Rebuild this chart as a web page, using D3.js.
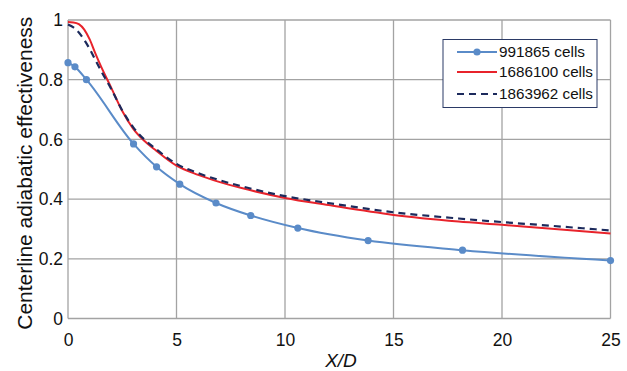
<!DOCTYPE html>
<html>
<head>
<meta charset="utf-8">
<script src="https://cdn.jsdelivr.net/npm/d3@7"></script>
<style>
  html, body { margin: 0; padding: 0; background: #fff; }
  svg { display: block; font-family: "Liberation Sans", Arial, sans-serif; }
</style>
</head>
<body>
<svg id="chart" width="627" height="371"></svg>
<script>
// Mesh sensitivity: centerline adiabatic effectiveness vs X/D
const coarseX = [0, 0.32, 0.85, 3.02, 4.08, 5.15, 6.82, 8.42, 10.59, 13.83, 18.18, 25];
const coarseY = [0.857, 0.843, 0.800, 0.585, 0.508, 0.450, 0.387, 0.345, 0.303, 0.261, 0.229, 0.194];

const fineX = [0, 0.25, 0.5, 0.75, 1, 1.25, 1.5, 2, 2.5, 3, 3.5, 4, 5, 6, 7, 8, 10, 12, 15, 18, 20, 22, 25];
const mediumY = [0.993, 0.992, 0.986, 0.968, 0.935, 0.89, 0.848, 0.772, 0.695, 0.636, 0.596, 0.566, 0.512, 0.481, 0.457, 0.437, 0.404, 0.380, 0.347, 0.325, 0.314, 0.302, 0.285];
const finestY = [0.985, 0.975, 0.958, 0.933, 0.903, 0.868, 0.833, 0.768, 0.697, 0.641, 0.601, 0.571, 0.518, 0.487, 0.463, 0.443, 0.410, 0.387, 0.356, 0.335, 0.323, 0.312, 0.295];

const seriesNames = ["991865 cells", "1686100 cells", "1863962 cells"];
const xTicks = [0, 5, 10, 15, 20, 25];
const yTicks = [0, 0.2, 0.4, 0.6, 0.8, 1];

const svg = d3.select("#chart");

const x = d3.scaleLinear().domain([0, 25]).range([68, 610.5]);
const y = d3.scaleLinear().domain([0, 1]).range([318.5, 20]);

const gridColor = "#a3a3a3";
const textColor = "#111";

// grid
svg.append("g").selectAll("line").data(xTicks).join("line")
  .attr("x1", d => x(d)).attr("x2", d => x(d))
  .attr("y1", y(0)).attr("y2", y(1))
  .attr("stroke", gridColor).attr("stroke-width", 1.3);
svg.append("g").selectAll("line").data(yTicks).join("line")
  .attr("x1", x(0)).attr("x2", x(25))
  .attr("y1", d => y(d)).attr("y2", d => y(d))
  .attr("stroke", gridColor).attr("stroke-width", 1.3);

// axes (labels only)
const xAxis = svg.append("g").attr("transform", `translate(0,${y(0)})`)
  .call(d3.axisBottom(x).tickValues(xTicks).tickSize(0).tickPadding(15).tickFormat(d3.format("d")));
const yAxis = svg.append("g").attr("transform", `translate(${x(0)},0)`)
  .call(d3.axisLeft(y).tickValues(yTicks).tickSize(0).tickPadding(5)
    .tickFormat(d => d === 0 || d === 1 ? d3.format("d")(d) : d3.format(".1f")(d)));
[xAxis, yAxis].forEach(g => {
  g.select(".domain").remove();
  g.selectAll("text").attr("font-size", 17.5).attr("fill", textColor)
    .attr("font-family", "'Liberation Sans', Arial, sans-serif");
});

// axis titles
svg.append("text").attr("x", 341).attr("y", 367)
  .attr("text-anchor", "middle").attr("font-size", 19).attr("font-style", "italic").attr("fill", textColor)
  .text("X/D");
svg.append("text").attr("transform", `translate(32,${(y(0) + y(1)) / 2 + 4}) rotate(-90)`)
  .attr("text-anchor", "middle").attr("font-size", 19.5).attr("fill", textColor)
  .attr("textLength", 313).attr("lengthAdjust", "spacingAndGlyphs")
  .text("Centerline adiabatic effectiveness");

const colors = ["#5a8bc8", "#e8232b", "#1c2a5c"];

const line = d3.line().x(d => x(d[0])).y(d => y(d[1])).curve(d3.curveMonotoneX);

const coarse = coarseX.map((v, i) => [v, coarseY[i]]);
const medium = fineX.map((v, i) => [v, mediumY[i]]);
const finest = fineX.map((v, i) => [v, finestY[i]]);

svg.append("path").datum(coarse).attr("d", line)
  .attr("fill", "none").attr("stroke", colors[0]).attr("stroke-width", 2);
svg.append("g").selectAll("circle").data(coarse).join("circle")
  .attr("cx", d => x(d[0])).attr("cy", d => y(d[1])).attr("r", 3.6)
  .attr("fill", colors[0]);

svg.append("path").datum(medium).attr("d", line)
  .attr("fill", "none").attr("stroke", colors[1]).attr("stroke-width", 2);

svg.append("path").datum(finest).attr("d", line)
  .attr("fill", "none").attr("stroke", colors[2]).attr("stroke-width", 2.2)
  .attr("stroke-dasharray", "7,5");

// legend
const lg = svg.append("g");
lg.append("rect").attr("x", 443).attr("y", 39.5).attr("width", 154).attr("height", 68)
  .attr("fill", "#fff").attr("stroke", "#2b3a66").attr("stroke-width", 1);
const rows = [52, 72, 94];
seriesNames.forEach((name, i) => {
  const ly = rows[i];
  const ln = lg.append("line").attr("x1", 457).attr("x2", 497).attr("y1", ly).attr("y2", ly)
    .attr("stroke", colors[i]).attr("stroke-width", 2);
  if (i === 2) ln.attr("stroke-dasharray", "7,5").attr("stroke-width", 2.2);
  if (i === 0) lg.append("circle").attr("cx", 477).attr("cy", ly).attr("r", 3.6).attr("fill", colors[0]);
  lg.append("text").attr("x", 499).attr("y", ly + 5).attr("font-size", 14.5).attr("fill", textColor)
    .attr("textLength", 86 + (i > 0 ? 8 : 0)).attr("lengthAdjust", "spacingAndGlyphs")
    .text(name);
});
</script>
</body>
</html>
